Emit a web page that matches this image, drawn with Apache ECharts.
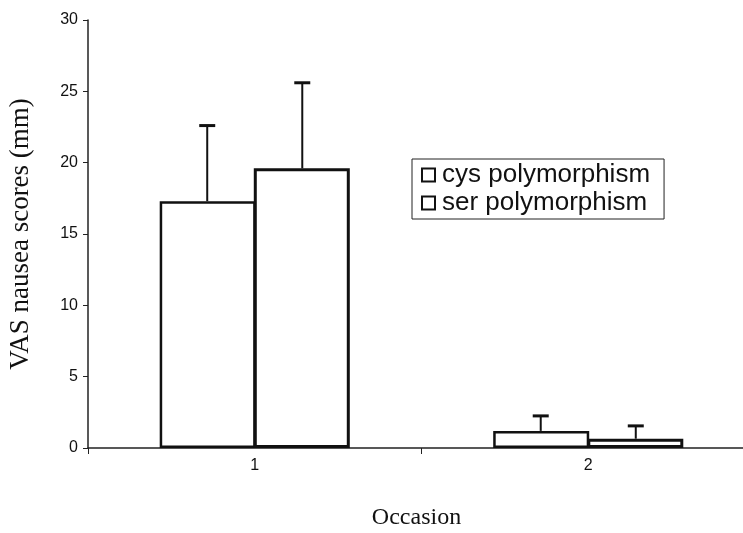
<!DOCTYPE html>
<html>
<head>
<meta charset="utf-8">
<script src="https://cdn.jsdelivr.net/npm/echarts@6/dist/echarts.min.js"></script>
<style>
  html, body { margin: 0; padding: 0; background: #fff; }
  #chart { width: 743px; height: 533px; }
</style>
</head>
<body>
<div id="chart"></div>
<script>
const occasions = ['1', '2']
const seriesNames = ['cys polymorphism', 'ser polymorphism']
const cysMeans = [17.3, 1.2]
const cysErrors = [5.3, 1.05]
const serMeans = [19.6, 0.65]
const serErrors = [6.0, 0.9]
const yTicks = [0, 5, 10, 15, 20, 25, 30]

const chart = echarts.init(document.getElementById('chart'))

const barCategoryGap = 0.43

// error bar: vertical line from mean to mean+err with a short cap
function errorSeries(means, errors, slot) {
  return {
    type: 'custom',
    silent: true,
    z: 5,
    data: means.map((m, i) => [i, m, m + errors[i]]),
    renderItem(params, api) {
      const band = api.size([1, 0])[0]
      const barW = band * (1 - barCategoryGap) / 2
      const base = api.coord([api.value(0), api.value(1)])
      const top = api.coord([api.value(0), api.value(2)])
      const x = base[0] + (slot === 0 ? -barW / 2 : barW / 2)
      return {
        type: 'group',
        children: [
          { type: 'line', shape: { x1: x, y1: base[1], x2: x, y2: top[1] }, style: { stroke: '#111', lineWidth: 2 } },
          { type: 'line', shape: { x1: x - 8, y1: top[1], x2: x + 8, y2: top[1] }, style: { stroke: '#111', lineWidth: 3 } }
        ]
      }
    }
  }
}

chart.setOption({
  animation: false,
  backgroundColor: '#fff',
  grid: { left: 88, right: -12, top: 20, bottom: 85, containLabel: false, outerBoundsMode: 'none' },
  legend: {
    data: seriesNames,
    orient: 'vertical',
    left: 412,
    top: 159,
    padding: [3, 14, 3, 9],
    itemGap: 2,
    itemWidth: 13,
    itemHeight: 13,
    icon: 'rect',
    backgroundColor: '#fff',
    borderColor: '#222',
    borderWidth: 1,
    borderRadius: 0,
    itemStyle: { color: '#fff', borderColor: '#111', borderWidth: 2 },
    textStyle: { fontFamily: 'Liberation Sans', fontSize: 26, color: '#111', padding: [0, 0, 0, 2] }
  },
  xAxis: {
    type: 'category',
    data: occasions,
    name: 'Occasion',
    nameLocation: 'middle',
    nameGap: 58,
    nameTextStyle: { fontFamily: 'Liberation Serif', fontSize: 24, color: '#111', padding: [0, 10, 0, 0] },
    axisLine: { lineStyle: { color: '#222', width: 1.5 } },
    axisTick: { show: true, length: 6, alignWithLabel: false, lineStyle: { color: '#222' } },
    axisLabel: { fontFamily: 'Liberation Sans', fontSize: 16, color: '#111', margin: 10 }
  },
  yAxis: {
    type: 'value',
    min: 0,
    max: 30,
    interval: 5,
    name: 'VAS nausea scores (mm)',
    nameLocation: 'middle',
    nameGap: 54,
    nameTextStyle: { fontFamily: 'Liberation Serif', fontSize: 27, color: '#111' },
    axisLine: { show: true, lineStyle: { color: '#222', width: 1.5 } },
    axisTick: { show: true, length: 5, lineStyle: { color: '#222' } },
    axisLabel: {
      fontFamily: 'Liberation Sans', fontSize: 16, color: '#111', margin: 10,
      formatter: v => yTicks.includes(v) ? String(v) : ''
    },
    splitLine: { show: false }
  },
  series: [
    {
      name: seriesNames[0],
      type: 'bar',
      data: cysMeans,
      barGap: '-2%',
      barCategoryGap: (barCategoryGap * 100) + '%',
      itemStyle: { color: '#fff', borderColor: '#111', borderWidth: 2.5 }
    },
    {
      name: seriesNames[1],
      type: 'bar',
      data: serMeans,
      barGap: '-2%',
      barCategoryGap: (barCategoryGap * 100) + '%',
      itemStyle: { color: '#fff', borderColor: '#111', borderWidth: 3 }
    },
    errorSeries(cysMeans, cysErrors, 0),
    errorSeries(serMeans, serErrors, 1)
  ]
})
</script>
</body>
</html>
